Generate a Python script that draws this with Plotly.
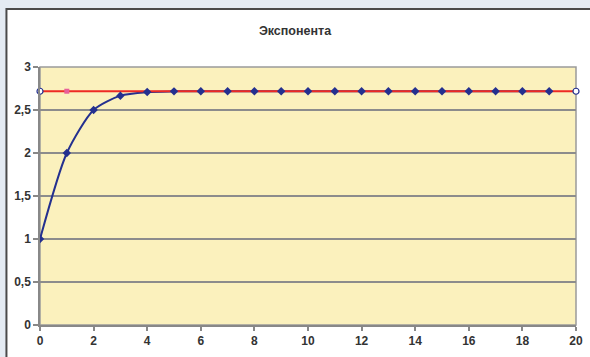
import plotly.graph_objects as go

# Partial sums of the series for e: sum of 1/k! for k = 0..n
n_vals = list(range(0, 20))
partial_sums = [1.0, 2.0, 2.5, 2.6667, 2.7083, 2.7167, 2.7181, 2.7183, 2.7183, 2.7183,
                2.7183, 2.7183, 2.7183, 2.7183, 2.7183, 2.7183, 2.7183, 2.7183, 2.7183, 2.7183]

# Reference level y = e
e_x = [0, 20]
e_y = [2.71828, 2.71828]
e_marker_x = [0, 20]
e_marker_y = [2.71828, 2.71828]
pink_x = [1]
pink_y = [2.71828]

x_ticks = list(range(0, 21, 2))
y_ticks = [0, 0.5, 1, 1.5, 2, 2.5, 3]

font_family = "Arial, Liberation Sans, sans-serif"
navy = "#24308f"
red = "#ee2a24"

fig = go.Figure()

# Curve of partial sums (line only, markers drawn later on top)
fig.add_trace(go.Scatter(
    x=n_vals, y=partial_sums, mode="lines",
    line=dict(color=navy, width=2, shape="spline", smoothing=0.7),
    hoverinfo="skip", showlegend=False,
))
# Horizontal line y = e
fig.add_trace(go.Scatter(
    x=e_x, y=e_y, mode="lines",
    line=dict(color=red, width=2), hoverinfo="skip", showlegend=False,
))
fig.add_trace(go.Scatter(
    x=pink_x, y=pink_y, mode="markers",
    marker=dict(symbol="square", size=5, color="#e8609a"), showlegend=False,
))
fig.add_trace(go.Scatter(
    x=n_vals, y=partial_sums, mode="markers",
    marker=dict(symbol="diamond", size=6.5, color=navy),
    showlegend=False,
))
fig.add_trace(go.Scatter(
    x=e_marker_x, y=e_marker_y, mode="markers",
    marker=dict(symbol="circle", size=6, color="white",
                line=dict(color=navy, width=1.2)),
    showlegend=False, cliponaxis=False,
))

# White chart panel with a dark frame on the light-blue page
fig.add_shape(type="rect", xref="paper", yref="paper",
              x0=-0.0626, x1=1.2, y0=-0.5, y1=1.2248,
              fillcolor="white", line=dict(color="#4a4a4a", width=2),
              layer="below")
# Plot area fill
fig.add_shape(type="rect", xref="paper", yref="paper",
              x0=0, x1=1, y0=0, y1=1,
              fillcolor="#fbf1bd", line=dict(color="#9a9a9a", width=1.5),
              layer="below")

fig.update_layout(
    width=590, height=357,
    margin=dict(l=40, r=7, t=67, b=32),
    paper_bgcolor="#e4ebf3",
    plot_bgcolor="rgba(0,0,0,0)",
    separators=", ",
    title=dict(text="<b>Экспонента</b>", x=0.5, xanchor="center",
               y=1 - 31 / 357, yanchor="middle",
               font=dict(family=font_family, size=12.5, color="#333333")),
    font=dict(family=font_family, size=12, color="#333333"),
)

fig.update_xaxes(
    range=[0, 20], tickvals=x_ticks, ticks="outside", ticklen=4,
    tickcolor="#888888", tickwidth=1.5,
    showgrid=False, zeroline=False,
    showline=True, linecolor="#888888", linewidth=1.5,
    tickfont=dict(family=font_family, size=12, color="#333333", weight="bold"),
)
fig.update_yaxes(
    range=[0, 3], tickvals=y_ticks, ticks="outside", ticklen=5,
    tickcolor="#888888", tickwidth=1.5,
    showgrid=True, gridcolor="#8c8c8c", gridwidth=1.5,
    zeroline=False, showline=True, linecolor="#888888", linewidth=1.5,
    tickfont=dict(family=font_family, size=12, color="#333333", weight="bold"),
)

fig.write_html("out.html")
